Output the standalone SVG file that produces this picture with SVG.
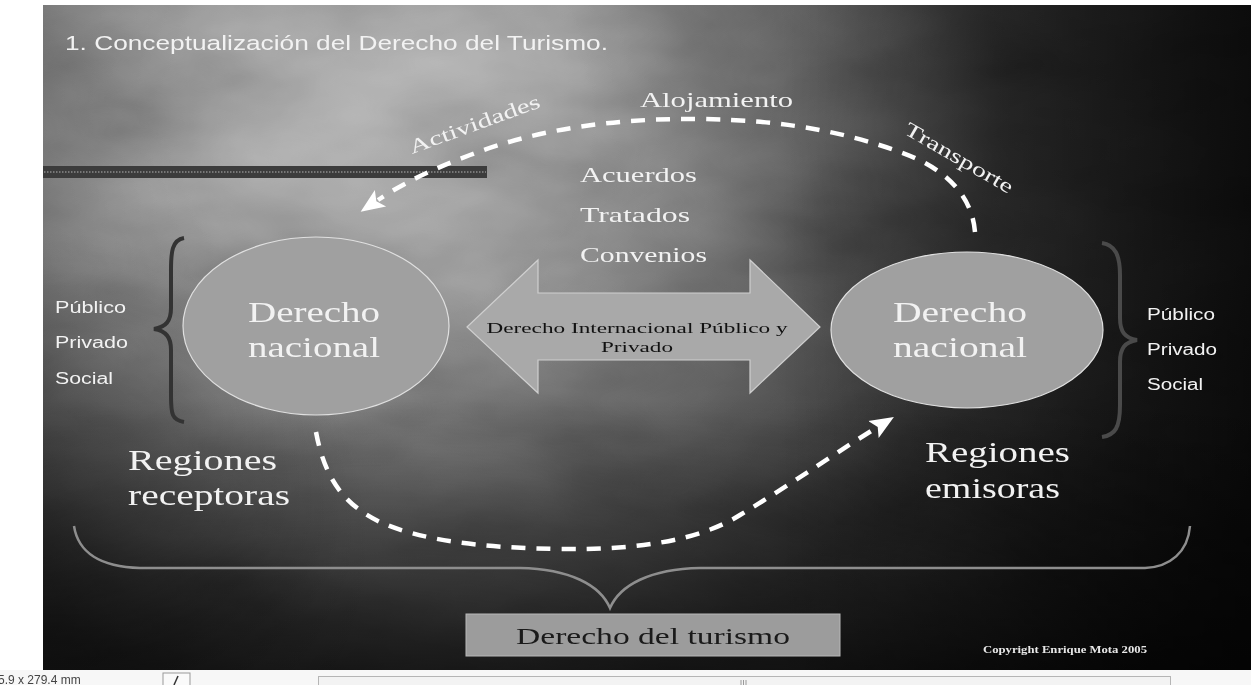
<svg xmlns="http://www.w3.org/2000/svg" width="1251" height="685" viewBox="0 0 1251 685">
  <defs>
    <radialGradient id="bgRad" gradientUnits="userSpaceOnUse" cx="380" cy="110" r="950">
      <stop offset="0" stop-color="#a2a2a2"/>
      <stop offset="0.18" stop-color="#878787"/>
      <stop offset="0.4" stop-color="#5a5a5a"/>
      <stop offset="0.65" stop-color="#2c2c2c"/>
      <stop offset="1" stop-color="#141414"/>
    </radialGradient>
    <linearGradient id="rightDark" gradientUnits="userSpaceOnUse" x1="780" y1="0" x2="1251" y2="0">
      <stop offset="0" stop-color="#000" stop-opacity="0"/>
      <stop offset="1" stop-color="#000" stop-opacity="0.6"/>
    </linearGradient>
    <linearGradient id="bottomDark" gradientUnits="userSpaceOnUse" x1="0" y1="400" x2="0" y2="670">
      <stop offset="0" stop-color="#000" stop-opacity="0"/>
      <stop offset="1" stop-color="#000" stop-opacity="0.62"/>
    </linearGradient>
    <radialGradient id="leftDark" gradientUnits="userSpaceOnUse" cx="43" cy="560" r="330">
      <stop offset="0" stop-color="#000" stop-opacity="0.35"/>
      <stop offset="1" stop-color="#000" stop-opacity="0"/>
    </radialGradient>
    <filter id="clouds" x="0" y="0" width="100%" height="100%">
      <feTurbulence type="fractalNoise" baseFrequency="0.004 0.009" numOctaves="4" seed="7"/>
      <feColorMatrix type="matrix" values="1 0 0 0 0  1 0 0 0 0  1 0 0 0 0  0 0 0 0 1"/>
    </filter>
    <marker id="ah" markerUnits="userSpaceOnUse" markerWidth="26" markerHeight="22" refX="3" refY="11" orient="auto">
      <path d="M0,1 L24,11 L0,21 L5,11 z" fill="#ffffff"/>
    </marker>
    <style>
      .w { fill: #f2f2f2; }
      .serif { font-family: "Liberation Serif", "Times New Roman", serif; }
      .sans { font-family: "Liberation Sans", Arial, sans-serif; }
      .dash { fill: none; stroke: #ffffff; stroke-width: 4.5; stroke-dasharray: 14 11; }
      .ell { fill: #a0a0a0; stroke: #e0e0e0; stroke-width: 1.2; }
      .big { font-size: 30px; }
      .side { font-size: 16px; }
      .mid { font-size: 21px; }
    </style>
  </defs>

  <!-- page -->
  <rect x="0" y="0" width="1251" height="685" fill="#ffffff"/>

  <!-- slide background -->
  <g id="background">
    <rect x="43" y="5" width="1208" height="665" fill="url(#bgRad)"/>
    <rect x="43" y="5" width="1208" height="665" filter="url(#clouds)" opacity="0.4" style="mix-blend-mode:overlay"/>
    <rect x="43" y="5" width="1208" height="665" fill="url(#rightDark)"/>
    <rect x="43" y="5" width="1208" height="665" fill="url(#bottomDark)"/>
    <rect x="43" y="5" width="1208" height="665" fill="url(#leftDark)"/>
  </g>

  <!-- title -->
  <g id="title">
    <text x="65" y="50" class="sans w" font-size="20.5" textLength="543" lengthAdjust="spacingAndGlyphs">1. Conceptualización del Derecho del Turismo.</text>
  </g>

  <!-- decorative bar -->
  <g id="bar">
    <rect x="43" y="166" width="444" height="12" fill="#3c3c3c"/>
    <line x1="44" y1="172" x2="486" y2="172" stroke="#8a8a8a" stroke-width="1.5" stroke-dasharray="1.5 1.5"/>
  </g>

  <!-- connectors -->
  <g id="connectors">
    <path class="dash" d="M975,232 C972,195 945,168 900,152 C850,134 790,120 700,119 C620,118 540,128 470,155 C430,170 400,185 378,200" marker-end="url(#ah)"/>
    <path class="dash" d="M316,432 C325,480 345,505 380,522 C420,540 480,548 560,549 C640,550 700,540 740,515 C790,485 840,450 876,428" marker-end="url(#ah)"/>
  </g>

  <!-- labels on the top arc -->
  <g id="arc-labels">
    <text x="640" y="107" class="serif w" font-size="21" textLength="153" lengthAdjust="spacingAndGlyphs">Alojamiento</text>
    <text transform="translate(412,154) rotate(-20)" class="serif w" font-size="20" textLength="138" lengthAdjust="spacingAndGlyphs">Actividades</text>
    <text transform="translate(903,133) rotate(30)" class="serif w" font-size="20" textLength="122" lengthAdjust="spacingAndGlyphs">Transporte</text>
  </g>

  <!-- agreements -->
  <g id="agreements">
    <text x="580" y="182" class="serif w mid" textLength="117" lengthAdjust="spacingAndGlyphs">Acuerdos</text>
    <text x="580" y="222" class="serif w mid" textLength="110" lengthAdjust="spacingAndGlyphs">Tratados</text>
    <text x="580" y="262" class="serif w mid" textLength="127" lengthAdjust="spacingAndGlyphs">Convenios</text>
  </g>

  <!-- left side -->
  <g id="left-sectors">
    <text x="55" y="313" class="sans w side" textLength="71" lengthAdjust="spacingAndGlyphs">Público</text>
    <text x="55" y="348" class="sans w side" textLength="73" lengthAdjust="spacingAndGlyphs">Privado</text>
    <text x="55" y="384" class="sans w side" textLength="58" lengthAdjust="spacingAndGlyphs">Social</text>
    <path d="M184,238 C172,240 171,252 171,270 L171,308 C171,321 166,327 154,329 C166,331 171,337 171,350 L171,396 C171,414 172,420 184,422" fill="none" stroke="#333333" stroke-width="4"/>
  </g>

  <g id="left-node">
    <ellipse class="ell" cx="316" cy="326" rx="133" ry="89"/>
    <text x="314" y="322" class="serif w big" text-anchor="middle" textLength="132" lengthAdjust="spacingAndGlyphs">Derecho</text>
    <text x="314" y="357" class="serif w big" text-anchor="middle" textLength="132" lengthAdjust="spacingAndGlyphs">nacional</text>
  </g>

  <!-- double arrow -->
  <g id="international-law">
    <polygon points="467,327 538,260 538,293 750,293 750,260 820,327 750,393 750,360 538,360 538,393" fill="#a9a9a9" stroke="#cfcfcf" stroke-width="1.2"/>
    <text x="637" y="333" class="serif" font-size="14.5" fill="#111111" text-anchor="middle" textLength="301" lengthAdjust="spacingAndGlyphs">Derecho Internacional Público y</text>
    <text x="637" y="352" class="serif" font-size="14.5" fill="#111111" text-anchor="middle" textLength="72" lengthAdjust="spacingAndGlyphs">Privado</text>
  </g>

  <!-- right node -->
  <g id="right-node">
    <ellipse class="ell" cx="967" cy="330" rx="136" ry="78"/>
    <text x="960" y="322" class="serif w big" text-anchor="middle" textLength="134" lengthAdjust="spacingAndGlyphs">Derecho</text>
    <text x="960" y="357" class="serif w big" text-anchor="middle" textLength="134" lengthAdjust="spacingAndGlyphs">nacional</text>
  </g>

  <g id="right-sectors">
    <path d="M1102,243 C1115,245 1120,255 1120,275 L1120,318 C1120,332 1125,338 1137,340 C1125,342 1120,348 1120,362 L1120,405 C1120,428 1115,435 1102,437" fill="none" stroke="#4a4a4a" stroke-width="4"/>
    <text x="1147" y="320" class="sans w side" textLength="68" lengthAdjust="spacingAndGlyphs">Público</text>
    <text x="1147" y="355" class="sans w side" textLength="70" lengthAdjust="spacingAndGlyphs">Privado</text>
    <text x="1147" y="390" class="sans w side" textLength="56" lengthAdjust="spacingAndGlyphs">Social</text>
  </g>

  <!-- regions -->
  <g id="receiving-regions">
    <text x="128" y="470" class="serif w big" textLength="149" lengthAdjust="spacingAndGlyphs">Regiones</text>
    <text x="128" y="505" class="serif w big" textLength="162" lengthAdjust="spacingAndGlyphs">receptoras</text>
  </g>
  <g id="sending-regions">
    <text x="925" y="462" class="serif w big" textLength="145" lengthAdjust="spacingAndGlyphs">Regiones</text>
    <text x="925" y="498" class="serif w big" textLength="135" lengthAdjust="spacingAndGlyphs">emisoras</text>
  </g>

  <!-- big bottom brace -->
  <g id="bottom-brace">
    <path d="M74,526 C78,552 100,567 140,568 L520,568 C570,569 600,585 610,608 C620,585 650,569 700,568 L1145,568 C1170,567 1188,552 1190,526" fill="none" stroke="#8e8e8e" stroke-width="2.5"/>
  </g>

  <!-- result box -->
  <g id="tourism-law">
    <rect x="466" y="614" width="374" height="42" fill="#9c9c9c" stroke="#b8b8b8" stroke-width="1"/>
    <text x="653" y="644" class="serif" font-size="23" fill="#1a1a1a" text-anchor="middle" textLength="274" lengthAdjust="spacingAndGlyphs">Derecho del turismo</text>
  </g>

  <g id="copyright">
    <text x="983" y="653" class="serif" font-size="9.5" font-weight="bold" fill="#e8e8e8" textLength="164" lengthAdjust="spacingAndGlyphs">Copyright Enrique Mota 2005</text>
  </g>

  <!-- status bar -->
  <g id="status-bar">
    <rect x="0" y="670" width="1251" height="15" fill="#f7f7f7"/>
    <text x="-2" y="684" class="sans" font-size="12" fill="#444444">5.9 x 279.4 mm</text>
    <rect x="163" y="673" width="27" height="14" fill="#fafafa" stroke="#999999" stroke-width="1"/>
    <line x1="178" y1="676" x2="174" y2="685" stroke="#333333" stroke-width="1.5"/>
    <rect x="318.5" y="676.5" width="852" height="12" fill="#f3f3f3" stroke="#b5b5b5" stroke-width="1"/>
    <line x1="741" y1="680" x2="741" y2="685" stroke="#999999" stroke-width="1"/>
    <line x1="743.5" y1="680" x2="743.5" y2="685" stroke="#999999" stroke-width="1"/>
    <line x1="746" y1="680" x2="746" y2="685" stroke="#999999" stroke-width="1"/>
  </g>
</svg>
